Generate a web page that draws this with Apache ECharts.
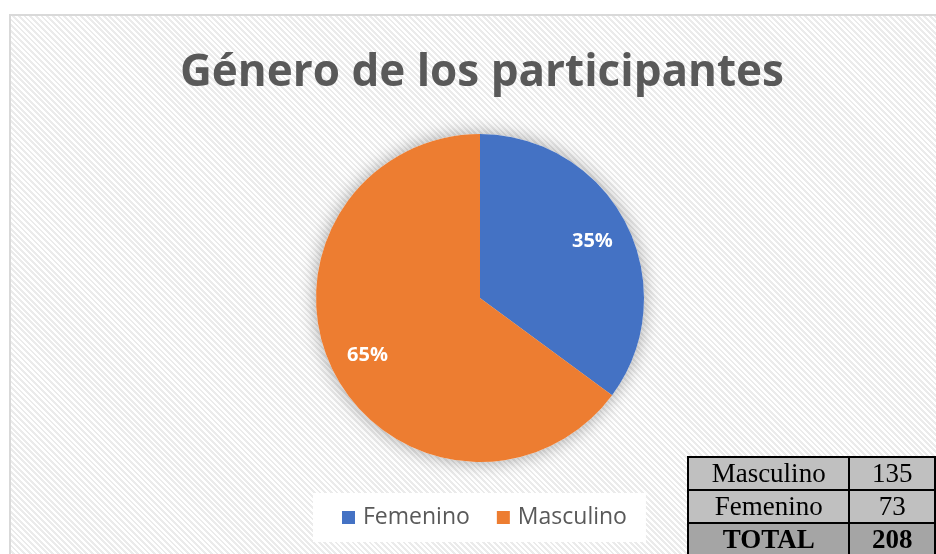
<!DOCTYPE html>
<html>
<head>
<meta charset="utf-8">
<script src="https://cdn.jsdelivr.net/npm/echarts@6/dist/echarts.min.js"></script>
<style>
  html, body { margin: 0; padding: 0; background: #fff; overflow: hidden; }
  .frame {
    position: absolute; left: 9px; top: 14px; width: 960px; height: 600px;
    border: 2px solid #d9d9d9; box-sizing: border-box;
    background: repeating-linear-gradient(45deg, #ffffff 0px, #ffffff 2px, #ebebeb 2px, #ebebeb 4px);
  }
  #main { position: absolute; left: 0; top: 0; width: 936px; height: 554px; }
  table.resumen {
    position: absolute; left: 687px; top: 456px; border-collapse: collapse;
    font-family: "Liberation Serif", "DejaVu Serif", serif; font-size: 27px; color: #000;
  }
  table.resumen td { border: 2px solid #000; height: 31px; padding: 0; text-align: center; line-height: 31px; background: #c0c0c0; }
  table.resumen td.nom { width: 168px; }
  table.resumen td.val { width: 92px; }
  table.resumen tr.total td { background: #a5a5a5; font-weight: bold; }
</style>
</head>
<body>
<div class="frame"></div>
<div id="main"></div>
<table class="resumen" id="tabla"></table>
<script>
  // datos
  const categorias = ['Femenino', 'Masculino'];
  const valores = [73, 135];
  const colores = ['#4472C4', '#ED7D31'];
  const titulo = 'Género de los participantes';

  const datos = categorias.map((c, i) => ({ name: c, value: valores[i] }));
  const centro = [480, 298];
  const radio = 164;

  const myChart = echarts.init(document.getElementById('main'), null, { renderer: 'canvas' });
  const option = {
    backgroundColor: 'transparent',
    color: colores,
    animation: false,
    title: {
      text: titulo,
      left: 175,
      top: 46,
      textStyle: { fontFamily: 'Open Sans', fontWeight: 'bold', fontSize: 44, color: '#595959' }
    },
    legend: {
      data: categorias.map((c, i) => ({ name: c, itemStyle: { color: colores[i] } })),
      left: 313,
      top: 493,
      padding: [13, 19, 13, 29],
      itemGap: 27,
      backgroundColor: '#ffffff',
      icon: 'rect',
      itemWidth: 13,
      itemHeight: 13,
      textStyle: { fontFamily: 'Open Sans', fontSize: 23, color: '#595959', padding: [0, 0, 0, 3] }
    },
    series: [
      {
        // sombra
        type: 'pie', silent: true, center: centro, radius: radio,
        data: datos, label: { show: false }, labelLine: { show: false },
        itemStyle: { color: '#fff', shadowBlur: 18, shadowColor: 'rgba(0,0,0,0.35)' },
        z: 1
      },
      {
        type: 'pie', name: 'Género', center: centro, radius: radio,
        data: datos, label: { show: false }, labelLine: { show: false },
        itemStyle: { borderWidth: 0 },
        z: 2
      },
      {
        // etiquetas
        type: 'pie', silent: true, center: centro, radius: [radio * 0.5, radio],
        data: datos, legendHoverLink: false,
        itemStyle: { color: 'transparent' },
        label: {
          show: true, position: 'inside',
          formatter: p => Math.round(p.percent) + '%',
          fontFamily: 'Open Sans', fontWeight: 'bold', fontSize: 20, color: '#fff'
        },
        labelLine: { show: false },
        z: 3
      }
    ]
  };
  myChart.setOption(option);

  // tabla
  const filasTabla = [['Masculino', valores[1]], ['Femenino', valores[0]]];
  const total = valores.reduce((a, b) => a + b, 0);
  let html = '';
  filasTabla.forEach(f => { html += '<tr><td class="nom">' + f[0] + '</td><td class="val">' + f[1] + '</td></tr>'; });
  html += '<tr class="total"><td class="nom">TOTAL</td><td class="val">' + total + '</td></tr>';
  document.getElementById('tabla').innerHTML = html;
</script>
</body>
</html>
